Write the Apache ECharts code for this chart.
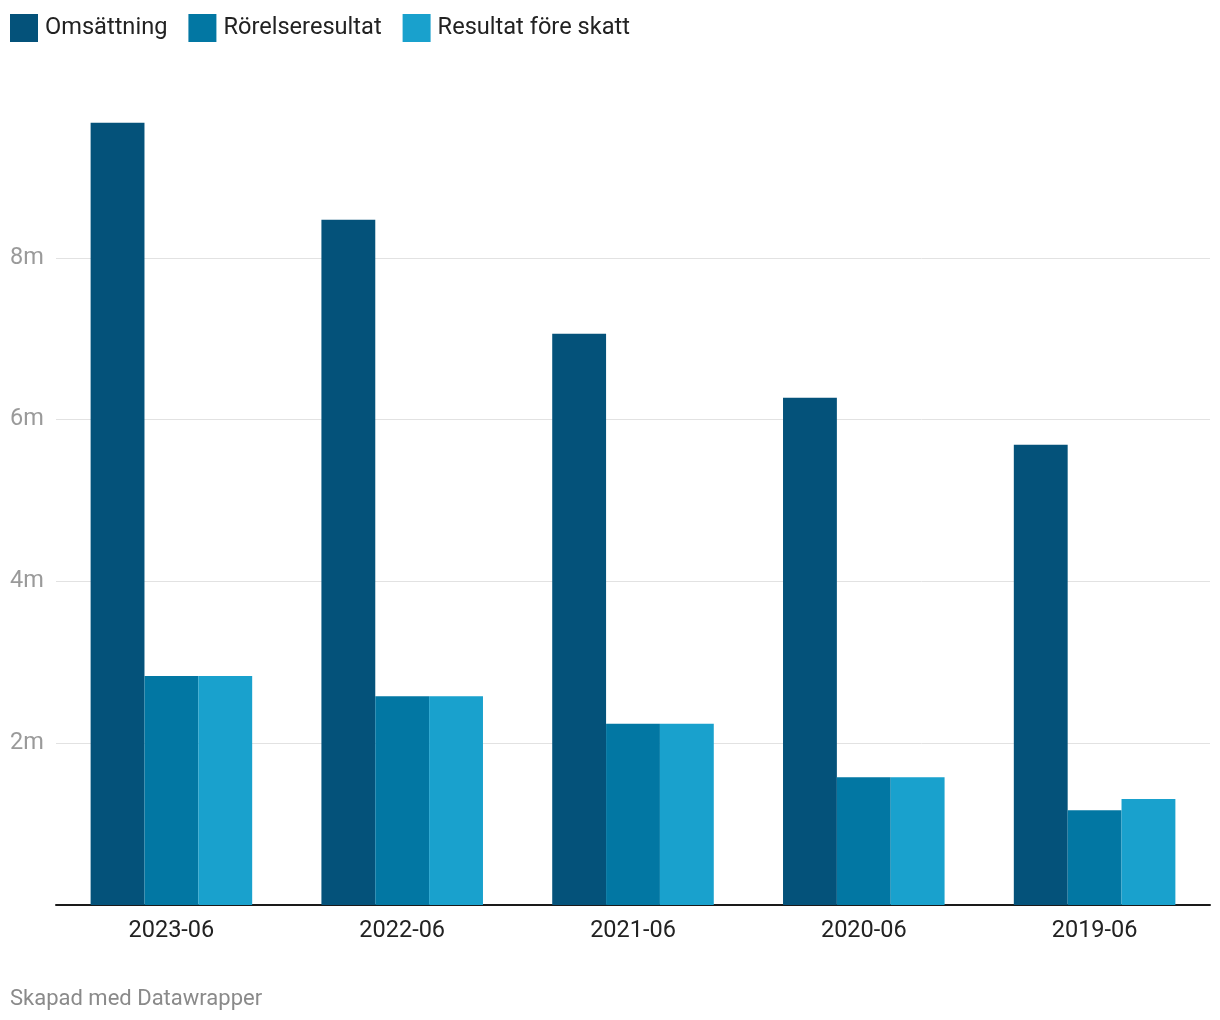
<!DOCTYPE html>
<html>
<head>
<meta charset="utf-8">
<script src="https://cdn.jsdelivr.net/npm/echarts@6/dist/echarts.min.js"></script>
<style>
html,body{margin:0;padding:0;background:#fff;}
#chart{width:1220px;height:1020px;}
</style>
</head>
<body>
<div id="chart"></div>
<script>
const categories = ['2023-06', '2022-06', '2021-06', '2020-06', '2019-06'];
const omsattning = [9.67, 8.47, 7.06, 6.27, 5.69];
const rorelseresultat = [2.83, 2.58, 2.24, 1.58, 1.17];
const resultatForeSkatt = [2.83, 2.58, 2.24, 1.58, 1.31];
const seriesNames = ['Omsättning', 'Rörelseresultat', 'Resultat före skatt'];
const colors = ['#04527a', '#0277a3', '#19a1cd'];

const chart = echarts.init(document.getElementById('chart'));
const font = 'Roboto, "Noto Sans", sans-serif';
chart.setOption({
  animation: false,
  color: colors,
  textStyle: { fontFamily: font },
  legend: {
    left: 10, top: 14, padding: 0,
    icon: 'rect', itemWidth: 28, itemHeight: 28, itemGap: 21,
    textStyle: { fontSize: 23.6, color: '#222', fontFamily: font, padding: [2, 0, 0, 2] },
    data: seriesNames
  },
  grid: { left: 56, right: 10, top: 96, bottom: 115 },
  xAxis: {
    type: 'category',
    data: categories,
    axisLine: { lineStyle: { color: '#1a1a1a', width: 2 } },
    axisTick: { show: false },
    axisLabel: { fontSize: 23.5, color: '#222', margin: 14, fontFamily: font }
  },
  yAxis: {
    type: 'value',
    min: 0, max: 10, interval: 2,
    axisLine: { show: false },
    axisTick: { show: false },
    splitLine: { show: true, showMinLine: false, showMaxLine: false, lineStyle: { color: '#e2e2e2', width: 1 } },
    axisLabel: {
      showMinLabel: false, showMaxLabel: false,
      align: 'left', margin: 46,
      fontSize: 23.5, color: '#9a9a9a', fontFamily: font,
      formatter: v => (v === 0 || v === 10) ? '' : v + 'm'
    }
  },
  graphic: [{
    type: 'text', left: 10, top: 988,
    style: { text: 'Skapad med Datawrapper', fontSize: 22, fill: '#8a8a8a', fontFamily: font }
  }],
  series: [
    { name: seriesNames[0], type: 'bar', data: omsattning, barGap: '0%', barCategoryGap: '30%' },
    { name: seriesNames[1], type: 'bar', data: rorelseresultat, barGap: '0%', barCategoryGap: '30%' },
    { name: seriesNames[2], type: 'bar', data: resultatForeSkatt, barGap: '0%', barCategoryGap: '30%' }
  ]
});
</script>
</body>
</html>
